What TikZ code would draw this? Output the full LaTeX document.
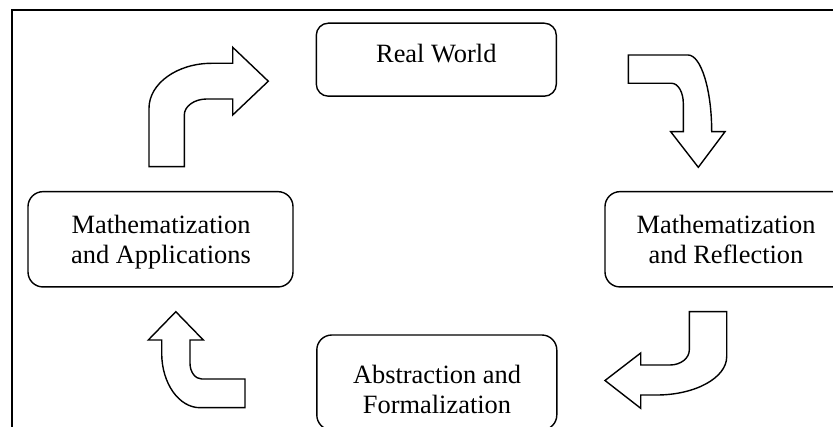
\documentclass[tikz,border=0pt]{standalone}
\usepackage{fontspec}
\setmainfont{Liberation Serif}
\begin{document}
\begin{tikzpicture}[x=1pt, y=-1pt,
    box/.style = {rectangle, draw, line width=1.4pt, rounded corners=#1,% rounded boxes of the cycle
                  inner sep=0pt, outer sep=0pt},
    txt/.style = {anchor=base, align=center, inner sep=0pt,% text set in the boxes, base = last line
                  font=\fontsize{26.4}{30}\selectfont},
   bent/.style = {draw, line width=1.4pt, line join=miter, fill=white},% bent block arrows
                        ]
\clip (0,0) rectangle (833,427);
\draw[line width=1.2pt] (12,10) rectangle (900,500);% frame, cut at right and bottom
% boxes
\node[box=12pt, minimum width=240pt, minimum height=73pt]   (real)  at (436.3,59.7)  {};
\node[box=15pt, minimum width=265pt, minimum height=95.3pt] (appl)  at (160.5,239.3) {};
\node[box=15pt, minimum width=242pt, minimum height=95.3pt] (refl)  at (726,239.3)   {};
\node[box=15pt, minimum width=240pt, minimum height=95pt]   (abstr) at (436.8,382.5) {};
% texts
\node[txt] (realt)  at (436.3,62.3) {Real World};
\node[txt] (applt)  at (161,263.3)  {Mathematization\\and Applications};
\node[txt] (reflt)  at (726,263.3)  {Mathematization\\and Reflection};
\node[txt] (abstrt) at (437,413.3)  {Abstraction and\\Formalization};
% arrows
\draw[bent] (149,166.7) -- (149,108.3) .. controls (149,83.5) and (177.2,63.3) .. (211.7,63.3)
    -- (232.7,63.3) -- (232.7,47.3) -- (268.3,81.2) -- (232.7,115) -- (232.7,99) -- (206.7,99)
    .. controls (194.4,99) and (184.3,106.2) .. (184.3,115) -- (184.3,166.7) -- cycle;
\draw[bent] (628.3,55) -- (688,55) .. controls (701,55) and (711.7,89.5) .. (711.7,131.7)
    -- (725,131.7) -- (698.3,167.3) -- (670.7,131.7) -- (683.3,131.7) -- (683.3,103.3)
    .. controls (683.3,92.3) and (678.1,83.3) .. (671.7,83.3) -- (628.3,83.3) -- cycle;
\draw[bent] (689.3,311.7) -- (726.7,311.7) -- (726.7,356.7)
    .. controls (726.7,377.8) and (695.2,395) .. (656.7,395) -- (640.7,395) -- (640.7,408.3)
    -- (605,380.5) -- (640.7,353) -- (640.7,365) -- (670,365)
    .. controls (680.6,365) and (689.3,358.3) .. (689.3,350) -- cycle;
\draw[bent] (245,379) -- (245,407.7) -- (200,407.7)
    .. controls (178.9,407.7) and (161.7,383.2) .. (161.7,353.3) -- (161.7,340) -- (148.3,340)
    -- (175.8,311.7) -- (203.3,340) -- (190,340) -- (190,363.3)
    .. controls (190,372) and (195.3,379) .. (201.7,379) -- cycle;
\end{tikzpicture}
\end{document}
